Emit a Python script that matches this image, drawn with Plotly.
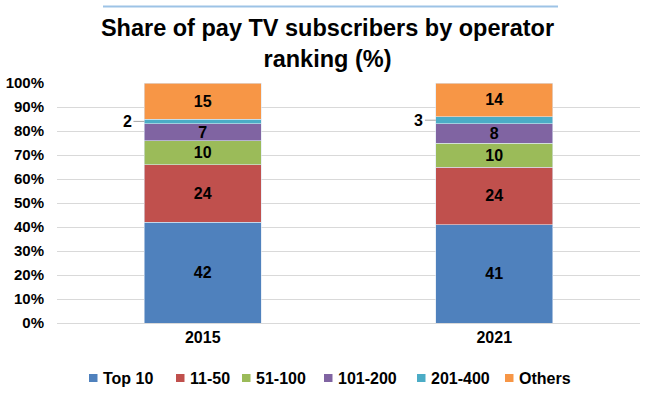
import plotly.graph_objects as go

years = ["2015", "2021"]
series_names = ["Top 10", "11-50", "51-100", "101-200", "201-400", "Others"]
top10 = [42, 41]
r11_50 = [24, 24]
r51_100 = [10, 10]
r101_200 = [7, 8]
r201_400 = [2, 3]
others = [15, 14]
values = [top10, r11_50, r51_100, r101_200, r201_400, others]
colors = ["#4f81bd", "#c0504d", "#9bbb59", "#8064a2", "#4bacc6", "#f79646"]
outside_series = "201-400"
bar_width = 0.4

W, H = 647, 398
ML, MR, MT, MB = 57, 7, 83, 75
PW, PH = W - ML - MR, H - MT - MB


def px_x(px):
    return (px - ML) / PW


def px_y(py):
    return (H - MB - py) / PH


FONT = "Liberation Sans"

fig = go.Figure()
for name, vals, col in zip(series_names, values, colors):
    inside = name != outside_series
    fig.add_trace(go.Bar(
        name=name, x=list(range(len(years))), y=vals,
        marker=dict(color=col, line=dict(width=0.6, color="#dce6f2")),
        width=bar_width,
        text=[str(v) for v in vals] if inside else None,
        textposition="inside" if inside else "none",
        insidetextanchor="middle", textangle=0, constraintext="none",
        textfont=dict(family=FONT, size=16, color="black", weight="bold"),
        hoverinfo="skip", showlegend=False,
    ))

# outside labels for the thin 201-400 segment
idx = series_names.index(outside_series)
for i, y in enumerate(years):
    base = sum(values[k][i] for k in range(idx))
    fig.add_annotation(
        x=i - bar_width / 2, y=base + values[idx][i] / 2,
        text=str(values[idx][i]), showarrow=True, arrowhead=0,
        arrowcolor="#a6a6a6", arrowwidth=1, ax=-17, ay=0,
        font=dict(family=FONT, size=16, color="black", weight="bold"),
    )

# manual legend (positions in pixels)
legend_box_px = [89, 176, 242, 324, 417, 505]
legend_y_px = 378
shapes = []
for name, col, bx in zip(series_names, colors, legend_box_px):
    shapes.append(dict(type="rect", xref="paper", yref="paper",
                       x0=px_x(bx), x1=px_x(bx + 8.5),
                       y0=px_y(legend_y_px + 4), y1=px_y(legend_y_px - 4),
                       fillcolor=col, line=dict(width=0)))
    fig.add_annotation(xref="paper", yref="paper", x=px_x(bx + 12), y=px_y(legend_y_px),
                       xanchor="left", yanchor="middle", showarrow=False, text=name,
                       font=dict(family=FONT, size=16, color="black", weight="bold"))

shapes.append(dict(type="line", xref="paper", yref="paper",
                   x0=px_x(103), x1=px_x(558), y0=px_y(6.5), y1=px_y(6.5),
                   line=dict(color="#9dc3e6", width=2)))

fig.update_layout(
    barmode="stack",
    width=W, height=H,
    paper_bgcolor="white", plot_bgcolor="white",
    margin=dict(l=ML, r=MR, t=MT, b=MB),
    showlegend=False,
    title=dict(
        text="Share of pay TV subscribers by operator<br>ranking (%)",
        x=327.5 / W, xanchor="center", y=1 - 36 / H, yanchor="middle",
        font=dict(family=FONT, size=23.5, color="black", weight="bold"),
    ),
    xaxis=dict(
        tickmode="array", tickvals=list(range(len(years))), ticktext=years,
        range=[-0.5, len(years) - 0.5], automargin=False,
        showgrid=False, showline=True, linecolor="#d9d9d9",
        tickfont=dict(family=FONT, size=16, color="black", weight="bold"),
    ),
    yaxis=dict(
        range=[0, 100], dtick=10, ticksuffix="%", automargin=False,
        showgrid=True, gridcolor="#d9d9d9", zeroline=False,
        ticklabelstandoff=12,
        tickfont=dict(family=FONT, size=15, color="black", weight="bold"),
    ),
    shapes=shapes,
)

fig.write_html(
    "out.html",
    config={"displayModeBar": False},
    post_script="document.body.style.margin='0';document.body.style.overflow='hidden';",
)
